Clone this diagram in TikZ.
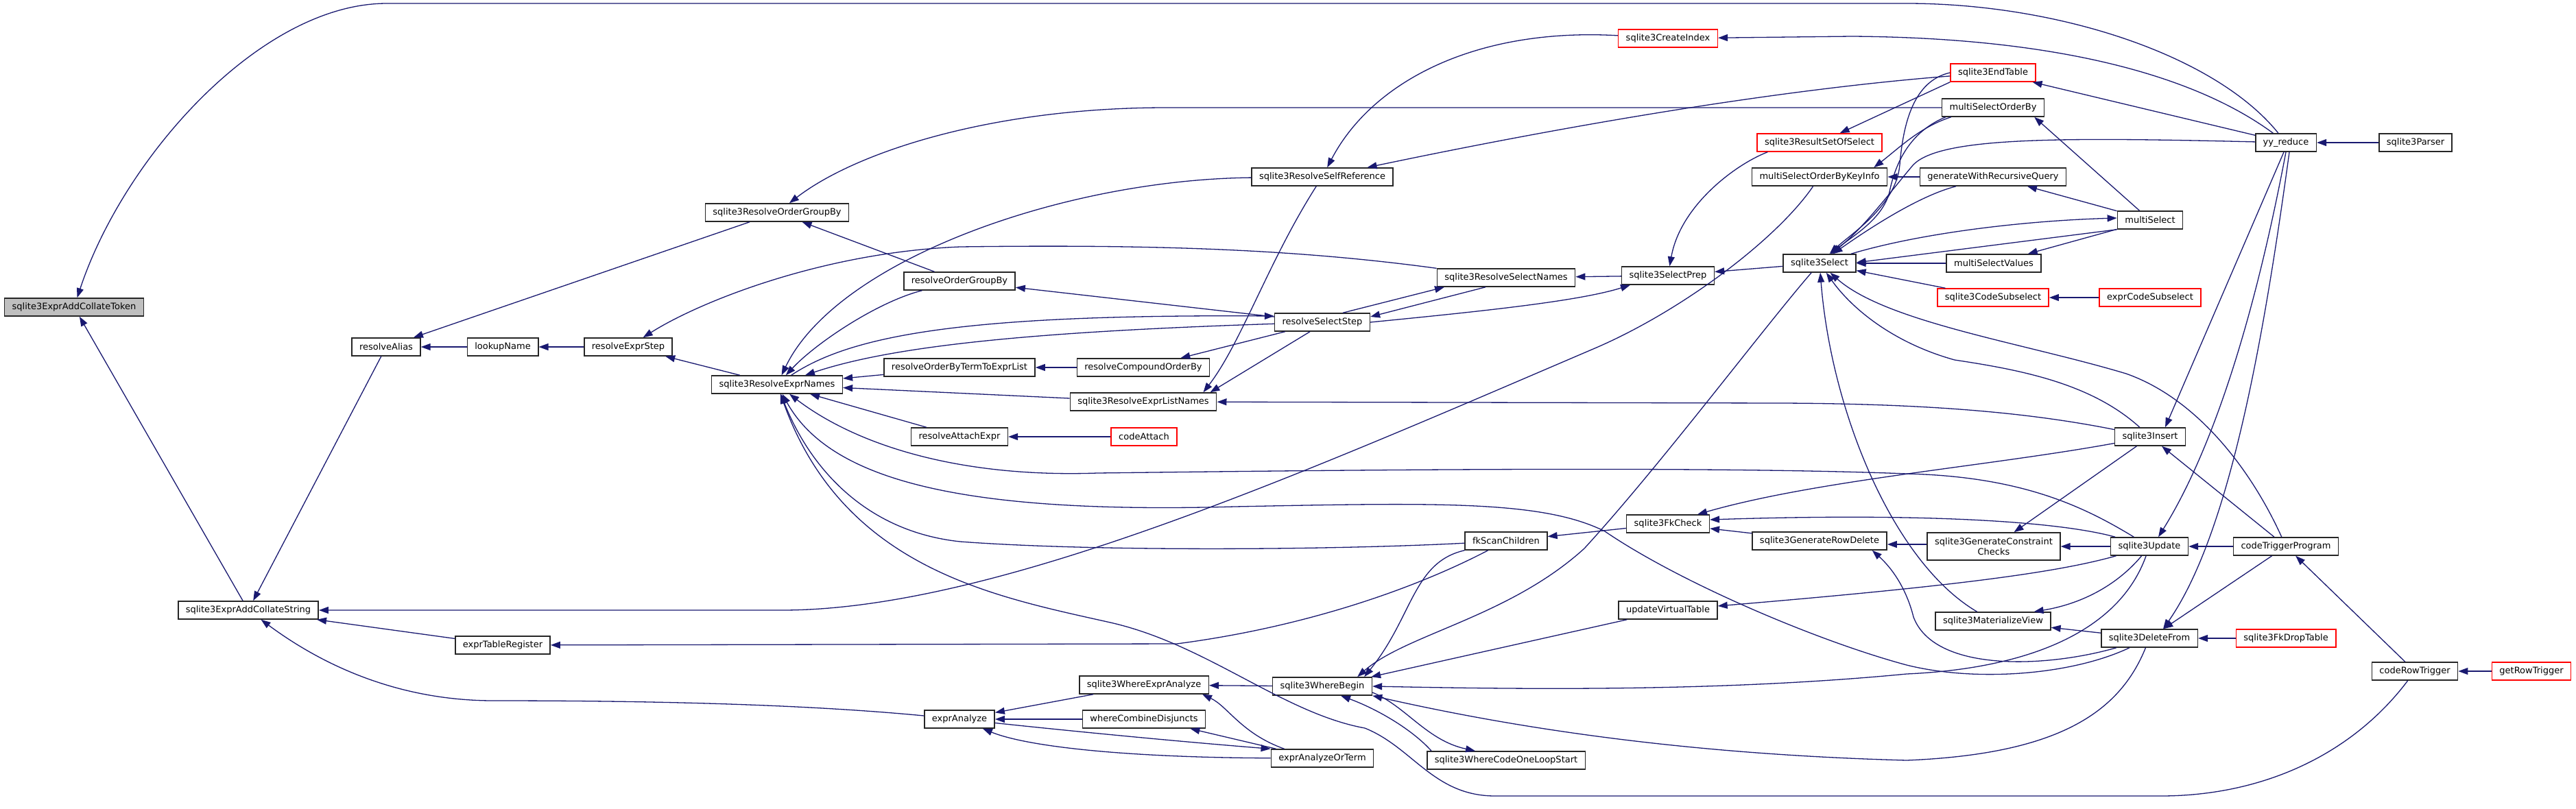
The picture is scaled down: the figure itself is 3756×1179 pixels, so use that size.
\documentclass[tikz,border=0pt]{standalone}
\usepackage{fontspec}
\setmainfont{DejaVu Sans}
\usetikzlibrary{arrows.meta}
\definecolor{callblue}{HTML}{191970}
\definecolor{rootgray}{HTML}{BFBFBF}
\definecolor{truncred}{HTML}{FF0000}

\begin{document}
\begin{tikzpicture}[x=1pt,y=-1pt,
  fn/.style={draw=black!85,line width=1.5pt,fill=white,font=\fontsize{13}{15}\selectfont,
    inner xsep=11pt,inner ysep=0pt,minimum height=26pt},
  trunc/.style={fn,draw=truncred},
  call/.style={draw=callblue,line width=1.3pt,-{Triangle[length=14pt,width=10pt]}}]
  \useasboundingbox (0,0) rectangle (3756,1179);

  % Functions, column by column
  \node[fn,fill=rootgray] (tok) at (108,448) {sqlite3ExprAddCollateToken};
  \node[fn] (str) at (362,890) {sqlite3ExprAddCollateString};
  \node[fn] (alias) at (563,506) {resolveAlias};
  \node[fn] (lookup) at (733,506) {lookupName};
  \node[fn] (etr) at (733,941) {exprTableRegister};
  \node[fn] (exprstep) at (916,506) {resolveExprStep};
  \node[fn] (rogb) at (1133,310) {sqlite3ResolveOrderGroupBy};
  \node[fn] (ren) at (1133,561) {sqlite3ResolveExprNames};
  \node[fn] (ogb) at (1399,410) {resolveOrderGroupBy};
  \node[fn] (obt) at (1399,536) {resolveOrderByTermToExprList};
  \node[fn] (attach) at (1399,637) {resolveAttachExpr};
  \node[fn] (exanalyze) at (1399,1049) {exprAnalyze};
  \node[fn] (compound) at (1667,536) {resolveCompoundOrderBy};
  \node[fn] (listnames) at (1667,586) {sqlite3ResolveExprListNames};
  \node[trunc] (codeattach) at (1668,637) {codeAttach};
  \node[fn] (whereanalyze) at (1668,999) {sqlite3WhereExprAnalyze};
  \node[fn] (disjuncts) at (1668,1049) {whereCombineDisjuncts};
  \node[fn] (selfref) at (1928,258) {sqlite3ResolveSelfReference};
  \node[fn] (selstep) at (1928,470) {resolveSelectStep};
  \node[fn] (wherebegin) at (1928,1001) {sqlite3WhereBegin};
  \node[fn] (orterm) at (1928,1106) {exprAnalyzeOrTerm};
  \node[fn] (selnames) at (2196,405) {sqlite3ResolveSelectNames};
  \node[fn] (fkscan) at (2196,789) {fkScanChildren};
  \node[fn] (loopstart) at (2196,1109) {sqlite3WhereCodeOneLoopStart};
  \node[trunc] (createidx) at (2432,56) {sqlite3CreateIndex};
  \node[fn] (selprep) at (2432,402) {sqlite3SelectPrep};
  \node[fn] (fkcheck) at (2432,764) {sqlite3FkCheck};
  \node[fn] (updvtab) at (2432,890) {updateVirtualTable};
  \node[trunc] (resultset) at (2653,208) {sqlite3ResultSetOfSelect};
  \node[fn] (keyinfo) at (2653,258) {multiSelectOrderByKeyInfo};
  \node[fn] (select) at (2653,384) {sqlite3Select};
  \node[fn] (rowdelete) at (2653,789) {sqlite3GenerateRowDelete};
  \node[trunc] (endtable) at (2906,106) {sqlite3EndTable};
  \node[fn] (msorderby) at (2906,157) {multiSelectOrderBy};
  \node[fn] (recursive) at (2906,258) {generateWithRecursiveQuery};
  \node[fn] (msvalues) at (2907,384) {multiSelectValues};
  \node[trunc] (codesub) at (2906,434) {sqlite3CodeSubselect};
  \node[fn,align=center,minimum height=40pt] (constraint) at (2907,797) {sqlite3GenerateConstraint\\Checks};
  \node[fn] (matview) at (2906,906) {sqlite3MaterializeView};
  \node[fn] (multiselect) at (3135,321) {multiSelect};
  \node[trunc] (exprcodesub) at (3135,434) {exprCodeSubselect};
  \node[fn] (insert) at (3135,637) {sqlite3Insert};
  \node[fn] (update) at (3134,797) {sqlite3Update};
  \node[fn] (deletefrom) at (3134,931) {sqlite3DeleteFrom};
  \node[fn] (yyreduce) at (3333,208) {yy\_reduce};
  \node[fn] (trigprog) at (3333,797) {codeTriggerProgram};
  \node[trunc] (fkdrop) at (3333,931) {sqlite3FkDropTable};
  \node[fn] (parser) at (3522,208) {sqlite3Parser};
  \node[fn] (rowtrigger) at (3521,979) {codeRowTrigger};
  \node[trunc] (getrowtrig) at (3691,979) {getRowTrigger};

  % Collate token / string
  \draw[call] (yyreduce) .. controls (3230,80) and (3000,5) .. (2780,5) -- (564,5) .. controls (380,5) and (180,230) .. (tok);
  \draw[call] (str) -- (tok);
  \draw[call] (alias) -- (str);
  \draw[call] (keyinfo) .. controls (2590,350) and (2450,455) .. (2323,509) .. controls (1900,690) and (1450,890) .. (1140,890) -- (str);
  \draw[call] (etr) -- (str);
  \draw[call] (exanalyze) .. controls (1150,1025) and (900,1022) .. (720,1022) .. controls (580,1022) and (470,970) .. (str);

  % Name resolution
  \draw[call] (rogb) -- (alias);
  \draw[call] (lookup) -- (alias);
  \draw[call] (exprstep) -- (lookup);
  \draw[call] (ren) -- (exprstep);
  \draw[call] (selnames) .. controls (1900,365) and (1700,356) .. (1400,360) .. controls (1200,368) and (1020,440) .. (exprstep);
  \draw[call] (msorderby) -- (1700,157) .. controls (1450,157) and (1250,220) .. (rogb);
  \draw[call] (ogb) -- (rogb);
  \draw[call] (selstep) -- (ogb);
  \draw[call] (selfref) .. controls (1550,262) and (1220,380) .. (ren);
  \draw[call] (ogb) .. controls (1280,440) and (1190,500) .. (ren);
  \draw[call] (selstep) .. controls (1500,484) and (1300,505) .. (ren);
  \draw[call] (ren) .. controls (1240,490) and (1400,458) .. ([yshift=9pt]selstep.west);
  \draw[call] (obt) -- (ren);
  \draw[call] (listnames) -- (ren);
  \draw[call] (attach) -- (ren);
  \draw[call] (update) .. controls (3040,740) and (2950,695) .. (2780,691) .. controls (2500,680) and (2000,685) .. (1600,690) .. controls (1400,697) and (1250,650) .. (ren);
  \draw[call] (deletefrom) .. controls (3020,985) and (2880,995) .. (2780,970) .. controls (2650,935) and (2450,850) .. (2340,775) .. controls (2250,730) and (2100,733) .. (1800,739) .. controls (1400,750) and (1210,700) .. (ren);
  \draw[call] (fkscan) .. controls (1950,802) and (1600,805) .. (1400,790) .. controls (1260,775) and (1180,680) .. (ren);
  \draw[call] (rowtrigger) .. controls (3430,1100) and (3300,1161) .. (3150,1161) -- (2180,1161) .. controls (2090,1161) and (2060,1090) .. (1990,1062) .. controls (1870,1040) and (1760,940) .. (1619,908) .. controls (1450,870) and (1230,830) .. (ren);
  \draw[call] (compound) -- (obt);
  \draw[call] (selstep) -- (compound);
  \draw[call] (selfref) .. controls (1850,380) and (1810,500) .. ([xshift=-20pt]listnames.north east);
  \draw[call] ([xshift=-18pt]selstep.south) -- ([xshift=-10pt]listnames.north east);
  \draw[call] (insert) .. controls (2950,600) and (2800,589) .. (2600,588) -- (listnames);
  \draw[call] (codeattach) -- (attach);
  \draw[call] (fkscan) .. controls (2060,860) and (1900,915) .. (1716,939) -- (etr);

  % Where clause analysis
  \draw[call] (whereanalyze) -- (exanalyze);
  \draw[call] (disjuncts) -- (exanalyze);
  \draw[call] (orterm) .. controls (1650,1105) and (1500,1090) .. (exanalyze);
  \draw[call] (exanalyze) .. controls (1550,1065) and (1700,1080) .. (orterm.north west);
  \draw[call] (wherebegin) -- (whereanalyze);
  \draw[call] ([xshift=20pt]orterm.north west) .. controls (1810,1070) and (1790,1030) .. ([xshift=-10pt]whereanalyze.south east);
  \draw[call] ([xshift=8pt]orterm.north west) -- ([xshift=-23pt]disjuncts.south east);

  % Self reference, select prep
  \draw[call] (createidx) .. controls (2150,40) and (2000,120) .. (selfref);
  \draw[call] (endtable) .. controls (2600,130) and (2300,180) .. (selfref);
  \draw[call] (yyreduce) .. controls (3200,110) and (3000,55) .. (2700,53) -- (createidx);
  \draw[call] (selprep) -- (selnames);
  \draw[call] ([xshift=30pt]selstep.north) -- ([xshift=-90pt]selnames.south);
  \draw[call] ([xshift=-30pt]selnames.south) -- ([yshift=8pt]selstep.east);
  \draw[call] (selstep.east) .. controls (2150,455) and (2300,440) .. ([xshift=-55pt]selprep.south);
  \draw[call] ([xshift=16pt]resultset.south west) .. controls (2530,240) and (2450,300) .. (selprep);
  \draw[call] (select) -- (selprep);
  \draw[call] (endtable.south west) -- (resultset);
  \draw[call] ([xshift=14pt]msorderby.south west) .. controls (2800,185) and (2770,215) .. ([xshift=-20pt]keyinfo.north east);
  \draw[call] (recursive) -- (keyinfo);

  % Parser
  \draw[call] (yyreduce) -- (endtable);
  \draw[call] (parser) -- (yyreduce);
  \draw[call] ([xshift=-3pt]yyreduce.south) -- ([xshift=22pt]insert.north);
  \draw[call] (yyreduce.south) .. controls (3290,450) and (3230,650) .. ([xshift=13pt]update.north);
  \draw[call] ([xshift=5pt]yyreduce.south) .. controls (3300,500) and (3250,780) .. ([xshift=20pt]deletefrom.north);

  % Compound selects
  \draw[call] (multiselect) -- ([xshift=-15pt]msorderby.south east);
  \draw[call] (multiselect) -- (recursive);
  \draw[call] (multiselect) -- (msvalues);
  \draw[call] (select) .. controls (2800,340) and (2950,322) .. ([yshift=3pt]multiselect.west);
  \draw[call] (exprcodesub) -- (codesub);

  % Callers of sqlite3Select
  \draw[call] (endtable.west) .. controls (2790,118) and (2775,180) .. (2770,240) .. controls (2765,300) and (2700,340) .. (select);
  \draw[call] ([xshift=6pt]msorderby.south west) .. controls (2790,190) and (2765,230) .. (2755,280) .. controls (2745,320) and (2700,345) .. (select);
  \draw[call] (recursive) .. controls (2800,285) and (2730,330) .. (select);
  \draw[call] (yyreduce) .. controls (3000,200) and (2830,200) .. (2790,240) .. controls (2760,275) and (2720,330) .. (select);
  \draw[call] (multiselect.south west) -- ([yshift=1pt]select.east);
  \draw[call] (msvalues) -- (select);
  \draw[call] (codesub) -- (select);
  \draw[call] (matview) .. controls (2760,820) and (2670,600) .. (select);
  \draw[call] (insert) .. controls (3050,560) and (2950,540) .. (2850,525) .. controls (2760,500) and (2700,450) .. (select);
  \draw[call] (trigprog) .. controls (3280,680) and (3200,580) .. (3100,545) .. controls (2950,500) and (2750,470) .. (select);

  % Where loop
  \draw[call] (select) .. controls (2570,480) and (2420,680) .. (2310,800) .. controls (2200,900) and (2050,925) .. ([xshift=-22pt]wherebegin.north east);
  \draw[call] (fkscan.south west) .. controls (2060,820) and (2060,900) .. ([xshift=-12pt]wherebegin.north east);
  \draw[call] ([xshift=13pt]updvtab.south west) -- ([xshift=-2pt]wherebegin.north east);
  \draw[call] (update) .. controls (3090,920) and (2960,975) .. (2780,983) .. controls (2500,1010) and (2200,1005) .. (wherebegin.east);
  \draw[call] (deletefrom) .. controls (3090,1040) and (3000,1100) .. (2780,1109) .. controls (2450,1100) and (2200,1060) .. (wherebegin.south east);
  \draw[call] ([xshift=7pt]loopstart.north west) .. controls (2060,1065) and (2010,1035) .. ([xshift=27pt]wherebegin.south);
  \draw[call] ([yshift=-9pt]wherebegin.east) .. controls (2050,1030) and (2080,1080) .. ([xshift=-45pt]loopstart.north);

  % Foreign keys, insert / update / delete
  \draw[call] (fkcheck) -- (fkscan);
  \draw[call] (insert) .. controls (2900,680) and (2650,700) .. ([xshift=-18pt]fkcheck.north east);
  \draw[call] (update) .. controls (3000,760) and (2800,748) .. ([yshift=6pt]fkcheck.east);
  \draw[call] (rowdelete) -- (fkcheck);
  \draw[call] ([yshift=3pt]constraint.west) -- ([yshift=-5pt]rowdelete.east);
  \draw[call] (deletefrom) .. controls (2980,975) and (2820,980) .. (2790,900) .. controls (2780,860) and (2760,830) .. ([xshift=-22pt]rowdelete.south east);
  \draw[call] (update) .. controls (3000,835) and (2850,855) .. (updvtab);
  \draw[call] (insert) -- (constraint);
  \draw[call] (update) -- (constraint);
  \draw[call] (trigprog) -- (insert);
  \draw[call] (trigprog) -- (update);
  \draw[call] (trigprog) -- (deletefrom);
  \draw[call] (update) .. controls (3090,850) and (3040,880) .. ([xshift=-25pt]matview.north east);
  \draw[call] (deletefrom) -- (matview);
  \draw[call] (fkdrop) -- (deletefrom);
  \draw[call] (rowtrigger) -- (trigprog);
  \draw[call] (getrowtrig) -- (rowtrigger);
\end{tikzpicture}
\end{document}
